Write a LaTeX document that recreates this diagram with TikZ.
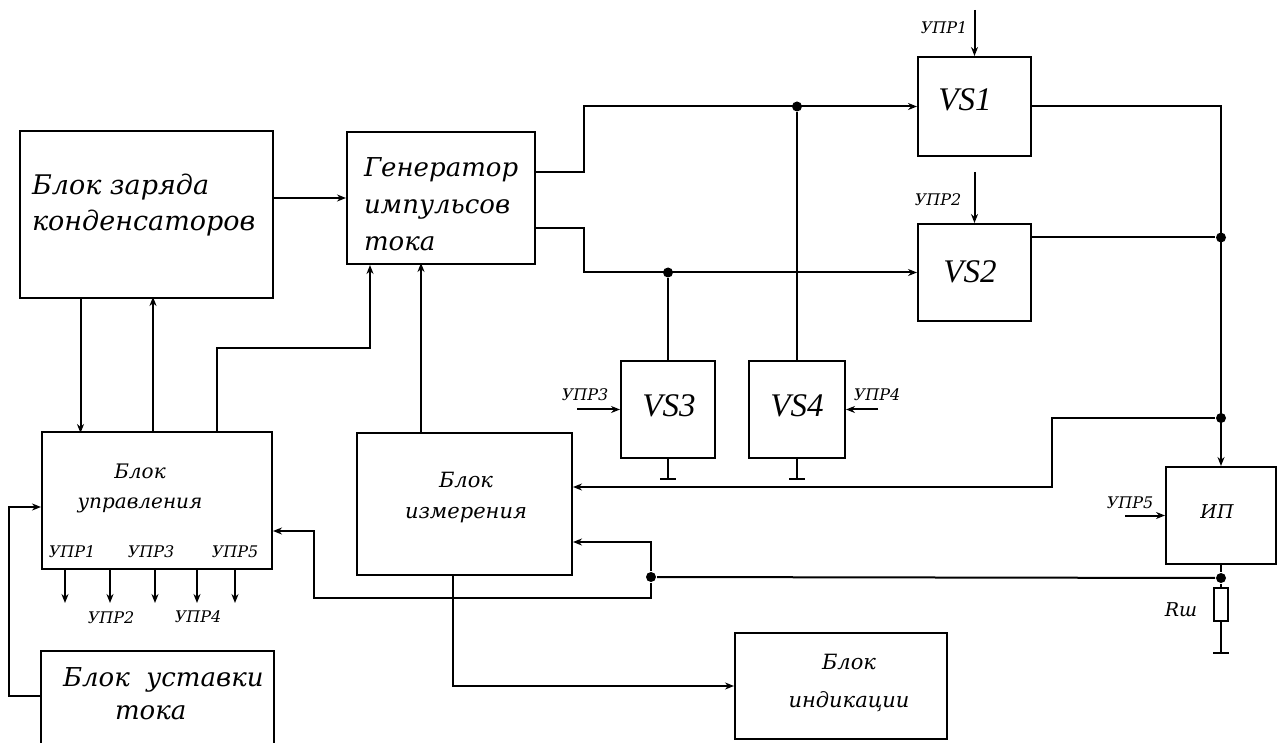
\documentclass[tikz,border=0pt]{standalone}
\usepackage{fontspec}
\setmainfont{Liberation Serif}[ItalicFont={Liberation Serif Italic}]
\newfontfamily\cyrfont{DejaVu Serif}[ItalicFont={DejaVu Serif Italic}]
\usetikzlibrary{arrows.meta}

\begin{document}
\begin{tikzpicture}[x=1pt,y=-1pt,line width=2pt,
  >={Stealth[length=9pt,width=7pt]},
  block/.style={draw, rectangle, line width=2pt, inner sep=0pt},
  lbl/.style={inner sep=0pt, font=\cyrfont\itshape},
  upr/.style={inner sep=0pt, font=\cyrfont\itshape\fontsize{16}{18}\selectfont},
  dot/.style={circle, fill, inner sep=0pt, minimum size=10pt}]
\useasboundingbox (0,0) rectangle (1278,743);

% blocks
\node[block, minimum width=253, minimum height=167] (charge) at (146.5,214.5) {};
\node[block, minimum width=188, minimum height=132] (gen) at (441,198) {};
\node[block, minimum width=113, minimum height=99] (vs1) at (974.5,106.5) {};
\node[block, minimum width=113, minimum height=97] (vs2) at (974.5,272.5) {};
\node[block, minimum width=94, minimum height=97] (vs3) at (668,409.5) {};
\node[block, minimum width=96, minimum height=97] (vs4) at (797,409.5) {};
\node[block, minimum width=230, minimum height=137] (ctrl) at (157,500.5) {};
\node[block, minimum width=215, minimum height=142] (meas) at (464.5,504) {};
\node[block, minimum width=110, minimum height=97] (ip) at (1221,515.5) {};
\node[block, minimum width=212, minimum height=106] (ind) at (841,686) {};
\node[block, draw=none, minimum width=231, minimum height=91] (set) at (157.5,697.5) {};
\draw[line width=2pt] (set.south west) -- (set.north west) -- (set.north east) -- (set.south east);
\node[block, line width=1.5pt, minimum width=14, minimum height=33] (rsh) at (1221,604.5) {};

% texts
\node[lbl, font=\cyrfont\itshape\fontsize{27}{36}\selectfont, align=left, anchor=west] (chargetxt) at (31,205) {Блок заряда\\конденсаторов};
\node[lbl, font=\cyrfont\itshape\fontsize{26}{37}\selectfont, align=left, anchor=west] (gentxt) at (363,204) {Генератор\\импульсов\\тока};
\node[lbl, font=\itshape\fontsize{33}{36}\selectfont] (vs1txt) at (965,100) {VS1};
\node[lbl, font=\itshape\fontsize{33}{36}\selectfont] (vs2txt) at (970,272) {VS2};
\node[lbl, font=\itshape\fontsize{33}{36}\selectfont] (vs3txt) at (669,406) {VS3};
\node[lbl, font=\itshape\fontsize{33}{36}\selectfont] (vs4txt) at (797,406) {VS4};
\node[lbl, font=\cyrfont\itshape\fontsize{20}{30}\selectfont, align=center] (ctrltxt) at (140,488) {Блок\\управления};
\node[lbl, font=\cyrfont\itshape\fontsize{21}{31}\selectfont, align=center] (meastxt) at (466,498) {Блок\\измерения};
\node[lbl, font=\cyrfont\itshape\fontsize{21}{38}\selectfont, align=center] (indtxt) at (849,683) {Блок\\индикации};
\node[lbl, font=\cyrfont\itshape\fontsize{26}{33}\selectfont, align=left, anchor=west] (settxt) at (62,694) {Блок~~уставки\\\hspace*{52pt}тока};
\node[lbl, font=\cyrfont\itshape\fontsize{19}{24}\selectfont] (iptxt) at (1217,512) {ИП};
\node[lbl, font=\cyrfont\itshape\fontsize{19}{24}\selectfont] (rshtxt) at (1181,610) {Rш};

% control labels
\node[upr] (u1txt) at (944,28) {УПР1};
\node[upr] (u2txt) at (938,200) {УПР2};
\node[upr] (u3txt) at (585,395) {УПР3};
\node[upr] (u4txt) at (877,395) {УПР4};
\node[upr] (u5txt) at (1130,503) {УПР5};
\node[upr] (c1txt) at (72,552) {УПР1};
\node[upr] (c3txt) at (151,552) {УПР3};
\node[upr] (c5txt) at (235,552) {УПР5};
\node[upr] (c2txt) at (111,618) {УПР2};
\node[upr] (c4txt) at (198,617) {УПР4};

% generator to thyristors
\draw[->] (gen.west -| charge.east) -- (gen.west);
\draw[->] ([yshift=26pt]gen.east) -- ++(48,0) |- (vs1.west);
\draw[->] ([yshift=-30pt]gen.east) -- ++(48,0) |- (vs2.west);
\node[dot] (jvs4) at (vs4.north |- vs1.west) {};
\node[dot] (jvs3) at (vs3.north |- vs2.west) {};
\draw (jvs4) -- (vs4.north);
\draw (jvs3) -- (vs3.north);

% right rail
\draw[->] (vs1.east) -| (ip.north);
\coordinate (vs2out) at ([yshift=35pt]vs2.east);
\node[dot] (jvs2) at (vs2out -| ip.north) {};
\draw (vs2out) -- (jvs2);
\node[dot] (jrail) at ([yshift=48pt]ip.north) {};
\draw[->] (jrail) -- ++(-169,0) |- ([yshift=17pt]meas.east);
\node[dot] (jip) at ([yshift=-13pt]ip.south) {};
\draw (ip.south) -- (jip) -- (rsh.north);
\draw (rsh.south) -- ++(0,31) coordinate (gip);
\draw ([xshift=-8pt]gip) -- ([xshift=8pt]gip);
\node[dot] (jmeas) at (651,577) {};
\draw (jip) -- (jmeas);
\draw[->] (jmeas) |- ([yshift=-38pt]meas.east);
\draw[->] (jmeas) -- ++(0,21) -| ([xshift=41pt,yshift=-30.5pt]ctrl.east) -- ([yshift=-30.5pt]ctrl.east);

% grounds
\draw (vs3.south) -- ++(0,20) coordinate (g3);
\draw ([xshift=-8pt]g3) -- ([xshift=8pt]g3);
\draw (vs4.south) -- ++(0,20) coordinate (g4);
\draw ([xshift=-8pt]g4) -- ([xshift=8pt]g4);

% control inputs
\coordinate (u1in) at (974.5,10);
\coordinate (u2in) at (974.5,172);
\coordinate (u3in) at (577,409.5);
\coordinate (u4in) at (878,409.5);
\coordinate (u5in) at (1125,515.5);
\draw[->] (u1in) -- (vs1.north);
\draw[->] (u2in) -- (vs2.north);
\draw[->] (u3in) -- (vs3.west);
\draw[->] (u4in) -- (vs4.east);
\draw[->] (u5in) -- (ip.west);

% control block links
\draw[->] ([xshift=-66pt]charge.south) -- ++(0,134);
\draw[->] ([xshift=-4pt]ctrl.north) -- ++(0,-134);
\draw[->] ([xshift=60pt]ctrl.north) -- ++(0,-83) -| ([xshift=-71pt]gen.south);
\draw[->] ([xshift=-43.5pt]meas.north) -- ++(0,-169);
\draw[->] ([xshift=-11.5pt]meas.south) |- (ind.west);
\draw[->] ([yshift=1.5pt]set.west) -- ++(-32,0) |- ([yshift=-6.5pt]ctrl.west);
\foreach \dx in {-92,-47,-2,40,78}
  \draw[->] ([xshift=\dx pt]ctrl.south) -- ++(0,33);
\end{tikzpicture}
\end{document}
